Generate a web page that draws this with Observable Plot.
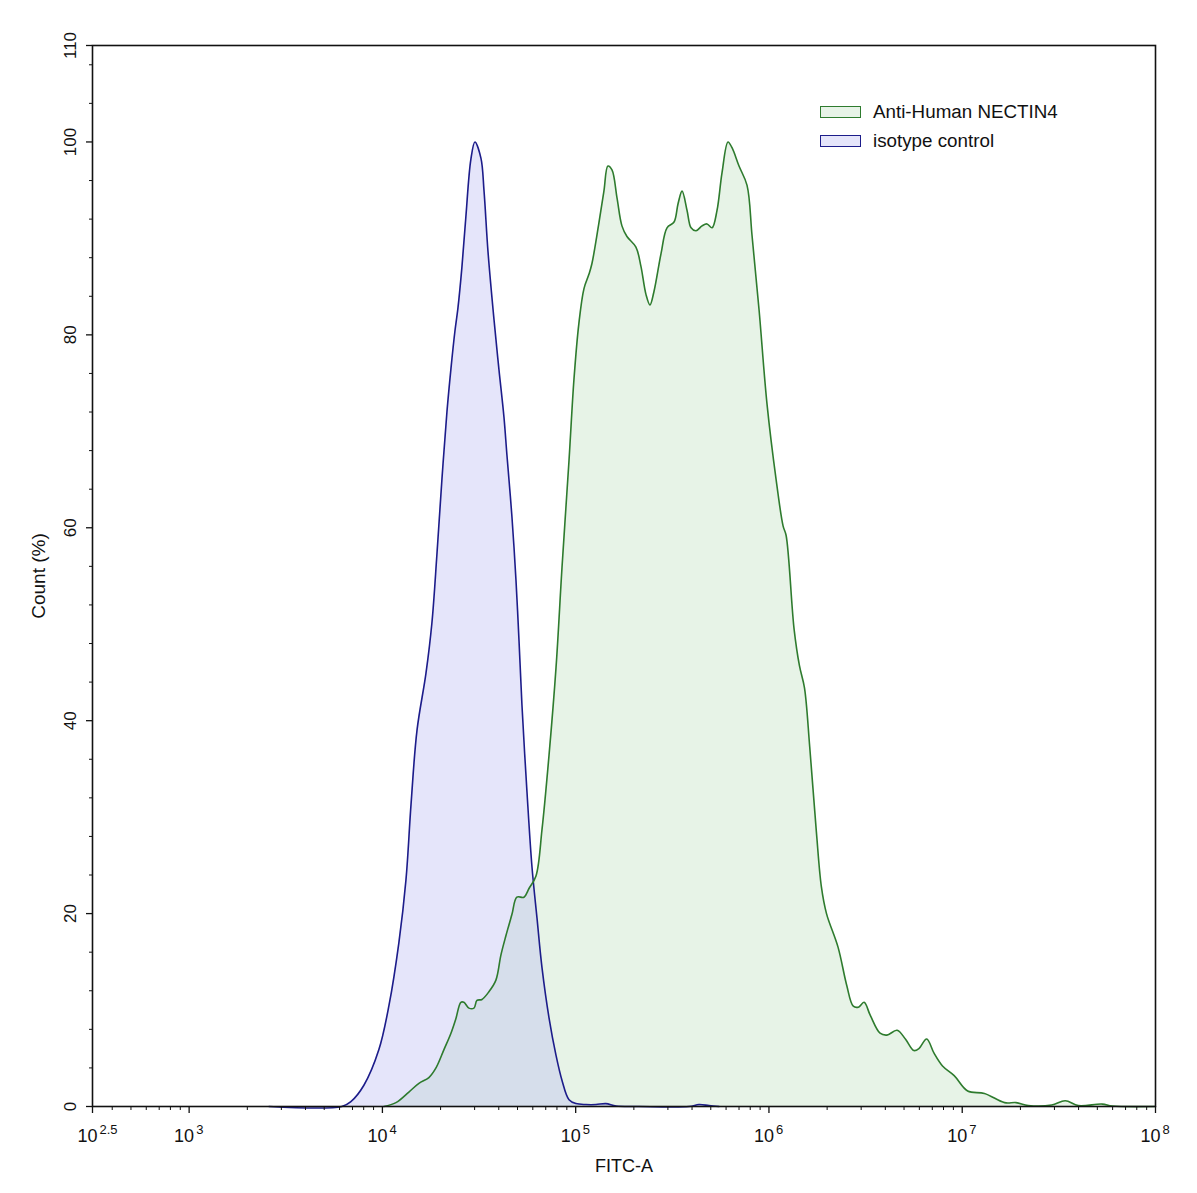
<!DOCTYPE html>
<html>
<head>
<meta charset="utf-8">
<script src="https://cdn.jsdelivr.net/npm/d3@7"></script>
<script src="https://cdn.jsdelivr.net/npm/@observablehq/plot@0.6"></script>
<style>
  body { margin: 0; background: #fff; }
  #wrap { position: relative; width: 1197px; height: 1193px; font-family: "Liberation Sans", Arial, sans-serif; }
  #chart svg { display: block; }
  .leg { position: absolute; left: 820px; font-size: 18.8px; color: #111; display: flex; align-items: center; }
  .leg .box { width: 39px; height: 10px; margin-right: 12px; }
</style>
</head>
<body>
<div id="wrap">
  <div id="chart"></div>
  <div class="leg" style="top:101px"><span class="box" style="border:1.5px solid #2e7b2e;background:#e7f3e7"></span>Anti-Human NECTIN4</div>
  <div class="leg" style="top:130px"><span class="box" style="border:1.5px solid #1c1c8a;background:#e5e5fa"></span>isotype control</div>
</div>
<script>
// ---- Data (FITC-A intensity, Count %) ----
const greenX = [10180, 11750, 13710, 15450, 17400, 18930, 20820, 22630, 23990, 25470, 26400, 28030, 29760, 30840, 32740, 35580, 38660, 41030, 43550, 46770, 49640, 54030, 57340, 62320, 66940, 72780, 79120, 84980, 92380, 97980, 103900, 110400, 117200, 121400, 131900, 140000, 146800, 154100, 163600, 173500, 184200, 205000, 217600, 231000, 242300, 254200, 276300, 296900, 322800, 338600, 355200, 376900, 395400, 419600, 450700, 478300, 507600, 538600, 571600, 614000, 644000, 700000, 770300, 817400, 888700, 977500, 1089000, 1183000, 1227000, 1349000, 1438000, 1527000, 1625000, 1759000, 1867000, 1985000, 2279000, 2523000, 2731000, 2902000, 3106000, 3336000, 3757000, 4074000, 4603000, 5081000, 5616000, 5969000, 6545000, 7158000, 7906000, 9087000, 10670000, 13030000, 16570000, 19010000, 21940000, 29030000, 34120000, 39850000, 53000000, 59700000, 99000000];
const greenY = [0, 0.4, 1.5, 2.4, 3.0, 4.0, 5.9, 7.6, 9.1, 10.8, 10.8, 10.2, 10.2, 11.0, 11.1, 11.9, 13.1, 15.7, 17.7, 19.9, 21.7, 21.7, 22.6, 23.9, 28.7, 36.4, 45.5, 55.9, 67.0, 75.4, 81.2, 84.8, 86.3, 87.4, 91.6, 94.9, 97.5, 97.1, 94.2, 91.3, 90.2, 89.1, 87.1, 84.2, 83.1, 84.5, 88.4, 91.1, 91.7, 93.6, 94.9, 92.9, 91.1, 90.8, 91.3, 91.5, 91.1, 92.9, 96.8, 100, 99.4, 97.5, 95.5, 90.3, 82.6, 72.8, 65.0, 60.2, 59.2, 49.5, 45.7, 43.4, 37.3, 28.5, 22.8, 20.0, 16.5, 12.6, 10.4, 10.3, 10.8, 9.5, 7.6, 7.4, 7.9, 7.0, 5.8, 6.0, 7.0, 5.5, 4.2, 3.2, 1.6, 1.35, 0.4, 0.4, 0.1, 0.15, 0.6, 0.1, 0.25, 0.05, 0];

const blueX = [2590, 6166, 6870, 8020, 9590, 10820, 12170, 13240, 14060, 15100, 16800, 18030, 19140, 20320, 21570, 22630, 23730, 24600, 25780, 27020, 28690, 30110, 32360, 33560, 35190, 37780, 40090, 42540, 44060, 46770, 49090, 50930, 52730, 55980, 59430, 63100, 66940, 72780, 79120, 84980, 92380, 100200, 113000, 127400, 143200, 161800, 212600, 386400, 434500, 489400, 551800];
const blueY = [0, 0, 0.5, 2.2, 5.9, 10.5, 17.0, 23.5, 31.3, 39.0, 44.9, 50.1, 57.2, 65.0, 72.0, 76.5, 80.4, 82.8, 87.0, 92.2, 98.2, 100, 98.3, 94.9, 88.6, 81.6, 76.4, 71.5, 67.6, 61.2, 54.6, 48.2, 41.6, 32.6, 24.8, 19.5, 14.4, 9.2, 5.3, 2.7, 0.7, 0.3, 0.2, 0.2, 0.3, 0.05, 0, 0, 0.2, 0.1, 0];

// ---- Axis ticks ----
const xMajorTicks = [Math.pow(10, 2.5), 1e3, 1e4, 1e5, 1e6, 1e7, 1e8];
const xTickExponents = ["2.5", "3", "4", "5", "6", "7", "8"];
const xMinorTicks = [];
for (let k = 2; k <= 7; k++) for (let m = 2; m <= 9; m++) {
  const v = m * Math.pow(10, k);
  if (v > Math.pow(10, 2.5)) xMinorTicks.push(v);
}
const yMajorTicks = [0, 20, 40, 60, 80, 100, 110];
const yMinorTicks = d3.range(4, 110, 4).filter(v => v % 20 !== 0);

const green = greenX.map((x, i) => ({x, y: greenY[i]}));
const blue = blueX.map((x, i) => ({x, y: blueY[i]}));
const xLabels = xMajorTicks.map((v, i) => ({v, e: xTickExponents[i]}));

const GREEN_LINE = "#2e7b2e", BLUE_LINE = "#1c1c8a";

const chart = Plot.plot({
  width: 1197,
  height: 1193,
  marginLeft: 92,
  marginRight: 42,
  marginTop: 45,
  marginBottom: 87,
  style: {fontFamily: "'Liberation Sans', Arial, sans-serif", fontSize: "18px", color: "#111", background: "white"},
  x: {type: "log", domain: [Math.pow(10, 2.5), 1e8], axis: null},
  y: {domain: [0, 110], axis: null},
  marks: [
    Plot.areaY(green, {x: "x", y: "y", fill: "#e7f3e7", curve: "catmull-rom"}),
    Plot.areaY(blue, {x: "x", y: "y", fill: "rgb(190,190,242)", fillOpacity: 0.4, curve: "catmull-rom"}),
    Plot.line(blue, {x: "x", y: "y", stroke: BLUE_LINE, strokeWidth: 1.6, curve: "catmull-rom"}),
    Plot.line(green, {x: "x", y: "y", stroke: GREEN_LINE, strokeWidth: 1.6, curve: "catmull-rom"}),
    Plot.frame({stroke: "#111", strokeWidth: 1.6}),
    Plot.axisX({ticks: xMajorTicks, tickSize: 7, tickFormat: () => "", label: null, stroke: "#111", strokeWidth: 1.3}),
    Plot.axisX({ticks: xMinorTicks, tickSize: 4, tickFormat: () => "", label: null, stroke: "#111", strokeWidth: 1}),
    Plot.axisY({ticks: yMajorTicks, tickSize: 6, tickFormat: () => "", label: null, stroke: "#111", strokeWidth: 1.3}),
    Plot.axisY({ticks: yMinorTicks, tickSize: 3, tickFormat: () => "", label: null, stroke: "#111", strokeWidth: 1}),
    Plot.text(xLabels, {x: "v", text: () => "10", frameAnchor: "bottom", textAnchor: "end", lineAnchor: "bottom", dx: 5, dy: 35, fontSize: 18, fill: "#111"}),
    Plot.text(xLabels, {x: "v", text: "e", frameAnchor: "bottom", textAnchor: "start", lineAnchor: "bottom", dx: 7, dy: 27, fontSize: 13, fill: "#111"}),
    Plot.text(yMajorTicks, {y: d => d, text: d => String(d), frameAnchor: "left", rotate: -90, textAnchor: "middle", lineAnchor: "middle", dx: -22, fontSize: 17, fill: "#111"}),
    Plot.text(["FITC-A"], {text: d => d, frameAnchor: "bottom", textAnchor: "middle", lineAnchor: "bottom", dy: 65, fontSize: 18, fill: "#111"}),
    Plot.text(["Count (%)"], {text: d => d, frameAnchor: "left", rotate: -90, textAnchor: "middle", lineAnchor: "middle", dx: -54, fontSize: 19, fill: "#111"})
  ]
});
document.getElementById("chart").appendChild(chart);
</script>
</body>
</html>
